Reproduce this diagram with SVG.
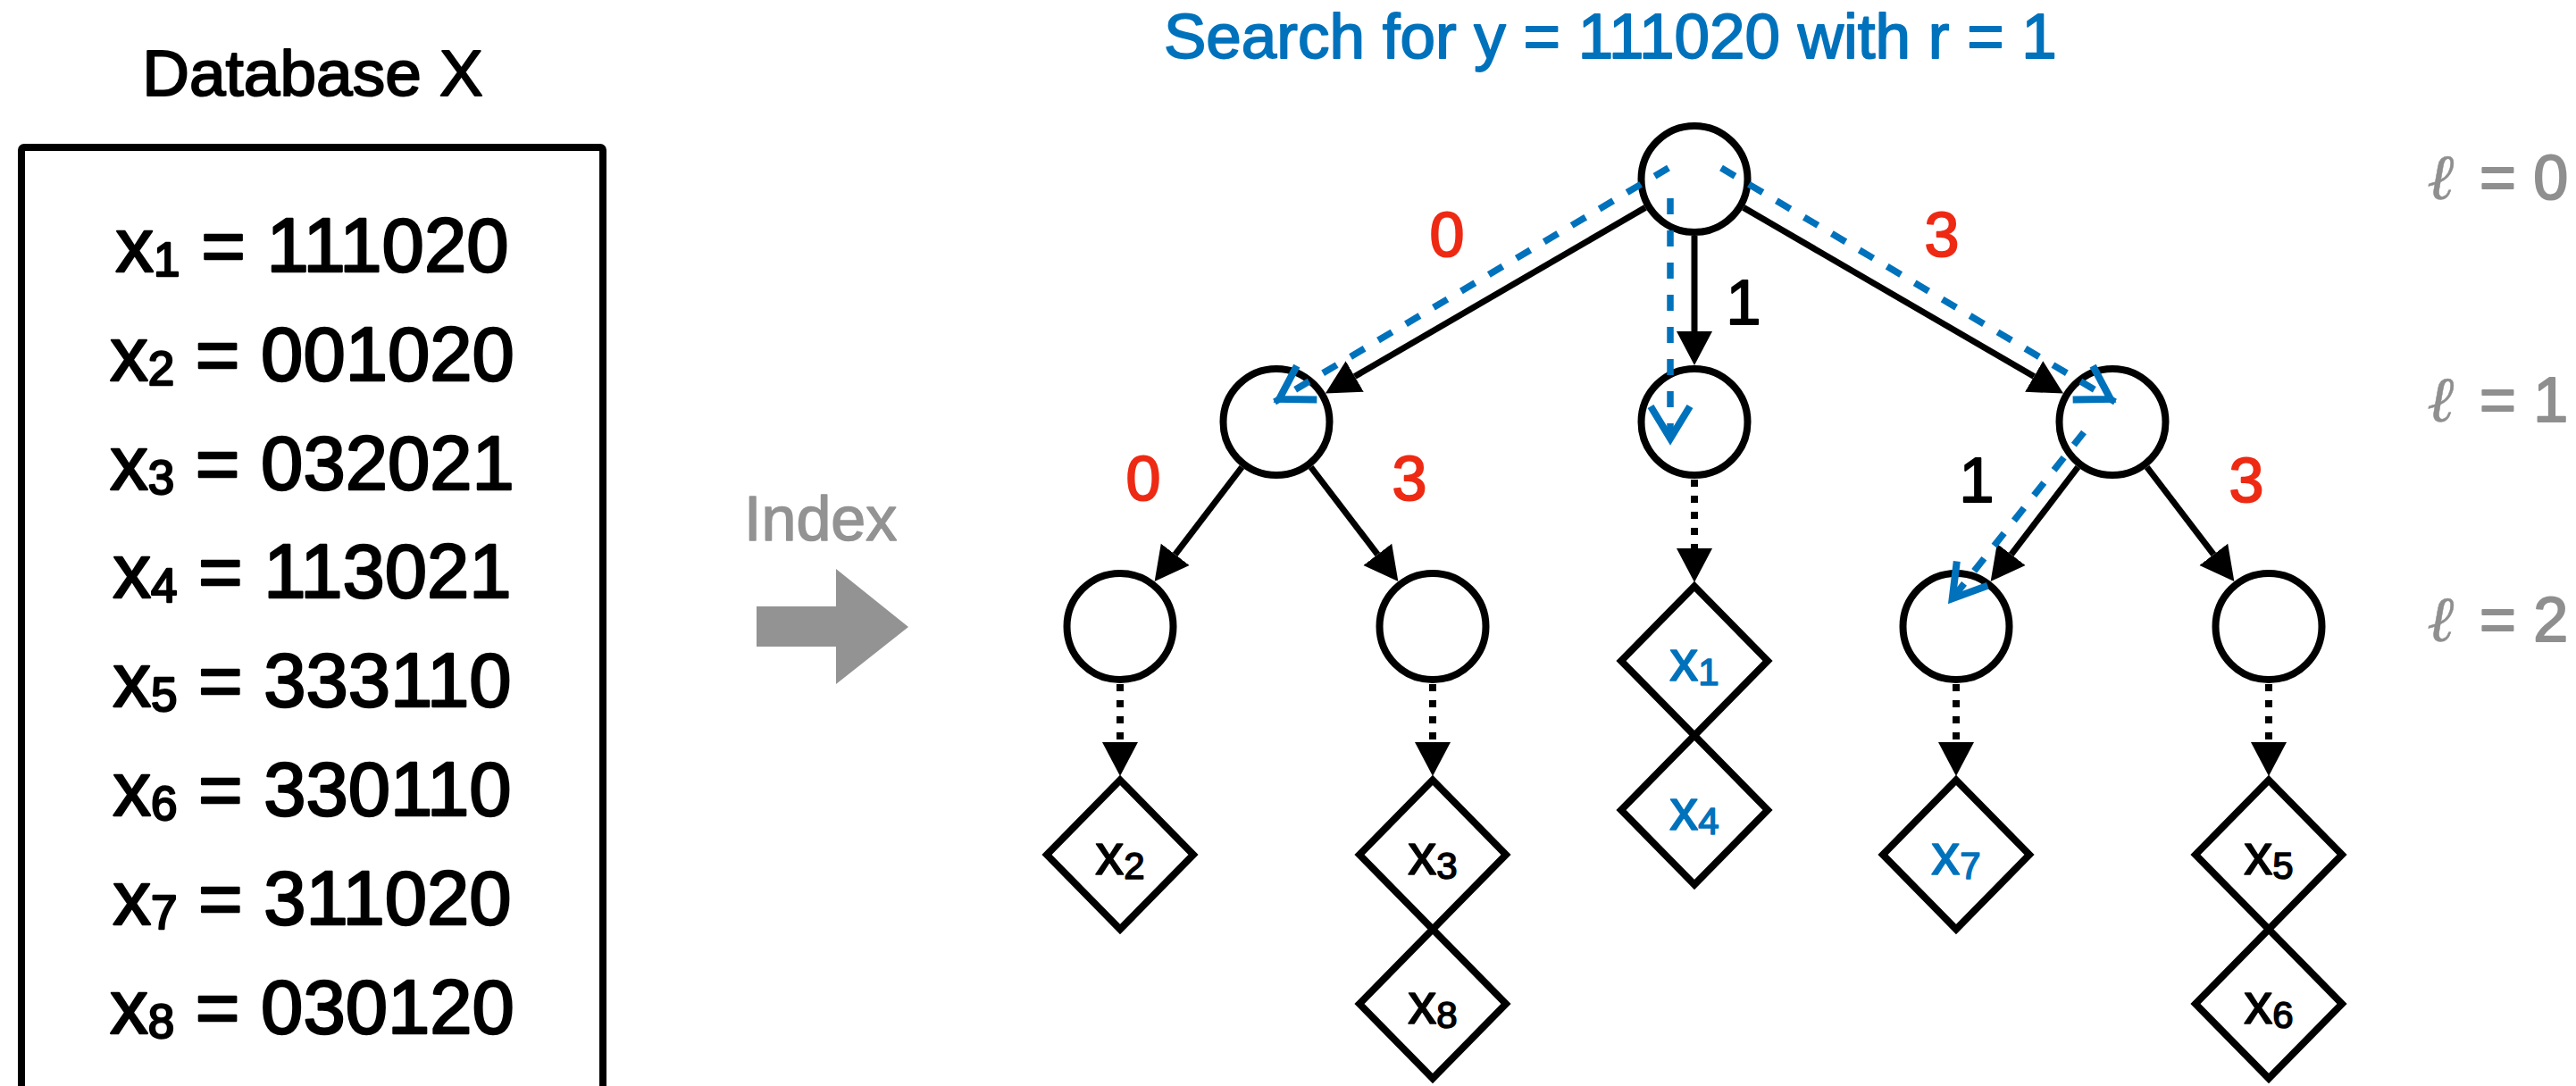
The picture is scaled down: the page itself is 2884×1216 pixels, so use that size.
<svg xmlns="http://www.w3.org/2000/svg" width="2884" height="1216" viewBox="0 0 2884 1216">
  <style>
    text { font-family: "Liberation Sans", Arial, Helvetica, sans-serif; stroke-linejoin: round; }
    .node { fill: #fff; stroke: #000; stroke-width: 8; }
    .leaf { fill: #fff; stroke: #000; stroke-width: 8; stroke-linejoin: miter; }
    .edge { stroke: #000; stroke-width: 7; fill: none; }
    .link { stroke: #000; stroke-width: 8; fill: none; stroke-dasharray: 8 10; }
    .path { stroke: #0072BC; stroke-width: 7.5; fill: none; stroke-dasharray: 18 18; }
    .red { fill: #EE2A14; stroke: #EE2A14; stroke-width: 2; font-size: 70px; text-anchor: middle; }
    .blk { fill: #000; stroke: #000; stroke-width: 2; font-size: 70px; text-anchor: middle; }
    .item { font-size: 64px; text-anchor: middle; fill: #000; stroke: #000; stroke-width: 1.6; }
    .item.hit { fill: #0072BC; stroke: #0072BC; }
    .lvl { fill: #8F8F8F; stroke: #8F8F8F; stroke-width: 2; font-size: 70px; }
    .ell { font-family: "DejaVu Serif", serif; font-style: italic; font-weight: bold; font-size: 72px; text-anchor: middle; stroke-width: 0.5; }
    .row { font-size: 85px; text-anchor: middle; fill: #000; stroke: #000; stroke-width: 2.4; }
  </style>
  <defs>
    <marker id="ah" markerUnits="userSpaceOnUse" viewBox="0 -21 39 42" markerWidth="39" markerHeight="42" refX="0" refY="0" orient="auto">
      <path d="M0,-20 L38,0 L0,20 z" fill="#000"/>
    </marker>
    <marker id="bh" markerUnits="userSpaceOnUse" viewBox="-52 -32 62 64" markerWidth="62" markerHeight="64" refX="0" refY="0" orient="auto">
      <path d="M-42,-22 L-6,0 L-42,22" fill="none" stroke="#0072BC" stroke-width="8" stroke-dasharray="none" stroke-linejoin="miter"/>
    </marker>
  </defs>

  <rect width="2884" height="1216" fill="#fff"/>

  <!-- database listing -->
  <g id="database">
    <text x="350" y="107" font-size="73" text-anchor="middle" fill="#000" stroke="#000" stroke-width="2">Database X</text>
    <rect x="24" y="165" width="651" height="1100" rx="3" fill="none" stroke="#000" stroke-width="8"/>
    <text class="row" x="349.5" y="304">x<tspan font-size="53" dy="5">1</tspan><tspan dy="-5"> = 111020</tspan></text>
    <text class="row" x="349.5" y="426">x<tspan font-size="53" dy="5">2</tspan><tspan dy="-5"> = 001020</tspan></text>
    <text class="row" x="349.5" y="548">x<tspan font-size="53" dy="5">3</tspan><tspan dy="-5"> = 032021</tspan></text>
    <text class="row" x="349.5" y="669">x<tspan font-size="53" dy="5">4</tspan><tspan dy="-5"> = 113021</tspan></text>
    <text class="row" x="349.5" y="791">x<tspan font-size="53" dy="5">5</tspan><tspan dy="-5"> = 333110</tspan></text>
    <text class="row" x="349.5" y="913">x<tspan font-size="53" dy="5">6</tspan><tspan dy="-5"> = 330110</tspan></text>
    <text class="row" x="349.5" y="1035">x<tspan font-size="53" dy="5">7</tspan><tspan dy="-5"> = 311020</tspan></text>
    <text class="row" x="349.5" y="1157">x<tspan font-size="53" dy="5">8</tspan><tspan dy="-5"> = 030120</tspan></text>
  </g>

  <!-- index step -->
  <g id="index">
    <text x="833" y="605" font-size="70" fill="#939393" stroke="#939393" stroke-width="1.5">Index</text>
    <polygon points="847,679 936,679 936,637 1017,702 936,766 936,724 847,724" fill="#939393"/>
  </g>

  <text id="query" x="1303" y="65" font-size="71" fill="#0072BC" stroke="#0072BC" stroke-width="1.8">Search for y = 111020 with r = 1</text>

  <!-- level labels -->
  <g id="levels" class="lvl">
    <text class="ell" x="2734" y="223">ℓ</text>
    <text x="2776" y="223">= 0</text>
    <text class="ell" x="2734" y="472">ℓ</text>
    <text x="2776" y="472">= 1</text>
    <text class="ell" x="2734" y="718">ℓ</text>
    <text x="2776" y="718">= 2</text>
  </g>

  <!-- trie nodes -->
  <g id="n-root"><circle class="node" cx="1897" cy="200.5" r="59.5"/></g>
  <g id="n-0"><circle class="node" cx="1429" cy="472.5" r="59.5"/></g>
  <g id="n-1"><circle class="node" cx="1897" cy="472.5" r="59.5"/></g>
  <g id="n-3"><circle class="node" cx="2365" cy="472.5" r="59.5"/></g>
  <g id="n-00"><circle class="node" cx="1254" cy="701.5" r="59.5"/></g>
  <g id="n-03"><circle class="node" cx="1604" cy="701.5" r="59.5"/></g>
  <g id="n-31"><circle class="node" cx="2190" cy="701.5" r="59.5"/></g>
  <g id="n-33"><circle class="node" cx="2540" cy="701.5" r="59.5"/></g>

  <!-- stored items -->
  <g id="leaf-x2">
    <polygon class="leaf" points="1254,873.5 1336,957 1254,1040.5 1172,957"/>
    <text class="item" x="1254" y="979">x<tspan font-size="42" dy="5">2</tspan></text>
  </g>
  <g id="leaf-x3">
    <polygon class="leaf" points="1604,873.5 1686,957 1604,1040.5 1522,957"/>
    <text class="item" x="1604" y="979">x<tspan font-size="42" dy="5">3</tspan></text>
  </g>
  <g id="leaf-x8">
    <polygon class="leaf" points="1604,1040.5 1686,1124 1604,1207.5 1522,1124"/>
    <text class="item" x="1604" y="1146">x<tspan font-size="42" dy="5">8</tspan></text>
  </g>
  <g id="leaf-x1">
    <polygon class="leaf" points="1897,656.5 1979,740 1897,823.5 1815,740"/>
    <text class="item hit" x="1897" y="762">x<tspan font-size="42" dy="5">1</tspan></text>
  </g>
  <g id="leaf-x4">
    <polygon class="leaf" points="1897,823.5 1979,907 1897,990.5 1815,907"/>
    <text class="item hit" x="1897" y="929">x<tspan font-size="42" dy="5">4</tspan></text>
  </g>
  <g id="leaf-x7">
    <polygon class="leaf" points="2190,873.5 2272,957 2190,1040.5 2108,957"/>
    <text class="item hit" x="2190" y="979">x<tspan font-size="42" dy="5">7</tspan></text>
  </g>
  <g id="leaf-x5">
    <polygon class="leaf" points="2540,873.5 2622,957 2540,1040.5 2458,957"/>
    <text class="item" x="2540" y="979">x<tspan font-size="42" dy="5">5</tspan></text>
  </g>
  <g id="leaf-x6">
    <polygon class="leaf" points="2540,1040.5 2622,1124 2540,1207.5 2458,1124"/>
    <text class="item" x="2540" y="1146">x<tspan font-size="42" dy="5">6</tspan></text>
  </g>

  <!-- connectors -->
  <g id="connectors">
    <line class="edge" x1="1842.1" y1="232.4" x2="1516.7" y2="421.5" marker-end="url(#ah)"/>
    <line class="edge" x1="1897" y1="264" x2="1897" y2="371" marker-end="url(#ah)"/>
    <line class="edge" x1="1951.9" y1="232.4" x2="2277.2" y2="421.5" marker-end="url(#ah)"/>
    <line class="edge" x1="1390.4" y1="523" x2="1315.7" y2="620.8" marker-end="url(#ah)"/>
    <line class="edge" x1="1467.6" y1="523" x2="1542.3" y2="620.8" marker-end="url(#ah)"/>
    <line class="edge" x1="2326.4" y1="523" x2="2251.7" y2="620.8" marker-end="url(#ah)"/>
    <line class="edge" x1="2403.6" y1="523" x2="2478.3" y2="620.8" marker-end="url(#ah)"/>

    <line class="link" x1="1897" y1="537" x2="1897" y2="614" marker-end="url(#ah)"/>
    <line class="link" x1="1254" y1="766" x2="1254" y2="831" marker-end="url(#ah)"/>
    <line class="link" x1="1604" y1="766" x2="1604" y2="831" marker-end="url(#ah)"/>
    <line class="link" x1="2190" y1="766" x2="2190" y2="831" marker-end="url(#ah)"/>
    <line class="link" x1="2540" y1="766" x2="2540" y2="831" marker-end="url(#ah)"/>

    <!-- edge symbols -->
    <text class="red" x="1620" y="287">0</text>
    <text class="blk" x="1952" y="363">1</text>
    <text class="red" x="2174" y="287">3</text>
    <text class="red" x="1280" y="560">0</text>
    <text class="red" x="1578" y="560">3</text>
    <text class="blk" x="2213" y="562">1</text>
    <text class="red" x="2515" y="562">3</text>

    <!-- search path -->
    <line class="path" x1="1868" y1="188" x2="1427" y2="450" marker-end="url(#bh)"/>
    <line class="path" x1="1870" y1="222" x2="1870" y2="497" marker-end="url(#bh)"/>
    <line class="path" x1="1927" y1="188" x2="2368" y2="450" marker-end="url(#bh)"/>
    <line class="path" x1="2333" y1="484" x2="2182" y2="675" marker-end="url(#bh)"/>
  </g>
</svg>
